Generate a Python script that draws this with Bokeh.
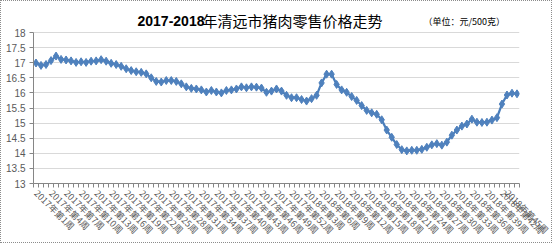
import math
from bokeh.plotting import figure
from bokeh.models import FixedTicker, Label, ColumnDataSource, Range1d
from bokeh.embed import file_html
from bokeh.resources import INLINE

# ---- data ----
weeks_2017 = [f"2017年第{i}周" for i in range(1, 53)]
weeks_2018 = [f"2018年第{i}周" for i in range(1, 46)]
categories = weeks_2017 + weeks_2018

prices = [
    16.99, 16.91, 16.94, 17.07, 17.22, 17.11, 17.09, 17.06, 17.01, 17.03,
    17.01, 17.05, 17.06, 17.10, 17.05, 16.98, 16.94, 16.88, 16.80, 16.74,
    16.70, 16.68, 16.63, 16.50,
    16.38, 16.36, 16.41, 16.41, 16.38, 16.30, 16.20, 16.15, 16.13, 16.10,
    16.03, 16.08, 16.03, 16.00, 16.08, 16.10, 16.13,
    16.20, 16.17, 16.20, 16.19, 16.16, 16.02,
    16.06, 16.13, 16.06, 15.92, 15.84, 15.84, 15.78, 15.73, 15.81, 15.92,
    16.33, 16.62, 16.62, 16.28, 16.10, 16.02, 15.88, 15.75, 15.58, 15.42,
    15.34, 15.29, 15.11,
    14.77, 14.53, 14.29, 14.12, 14.08, 14.10, 14.10, 14.13, 14.20, 14.28,
    14.32, 14.27, 14.37, 14.60, 14.77, 14.90, 14.97, 15.13, 15.03, 15.02,
    15.03, 15.10, 15.18, 15.63, 15.93, 15.99, 15.97,
]

y_ticks = [13, 13.5, 14, 14.5, 15, 15.5, 16, 16.5, 17, 17.5, 18]
title_main = "2017-2018"
title_rest = "年清远市猪肉零售价格走势"
unit_text = "（单位：元/500克）"

# ---- layout constants (pixels, page coordinates) ----
B = 1                   # css border width
W, H = 554 - 2 * B, 245 - 2 * B
LEFT, RIGHT, BOTTOM = 33 - B, 35 - B, 62 - B
PLOT_TOP = 32 - B       # row of the top gridline inside the canvas
FRAME_H = H - BOTTOM
y_lo, y_hi = min(y_ticks), max(y_ticks)
y_top = y_hi + (y_hi - y_lo) * PLOT_TOP / (FRAME_H - PLOT_TOP)

idx = list(range(len(categories)))
src = ColumnDataSource(dict(x=idx, y=prices, cat=categories))

p = figure(width=W, height=H, output_backend="svg", toolbar_location=None,
           title=None,
           x_range=Range1d(-0.5, len(categories) - 0.5),
           y_range=Range1d(y_lo, y_top),
           min_border_left=LEFT, min_border_right=RIGHT, min_border_top=0,
           min_border_bottom=BOTTOM)
p.outline_line_color = None
p.background_fill_color = "white"
p.border_fill_color = "white"
p.styles = {"border": f"{B}px dotted #8c8c8c"}

label_idx = idx[::3]
p.xaxis.ticker = FixedTicker(ticks=label_idx,
                             minor_ticks=[i - 0.5 for i in range(len(categories) + 1)])
p.xaxis.major_label_overrides = {i: categories[i] for i in label_idx}
p.xaxis.major_label_orientation = -math.pi / 4
p.xaxis.major_tick_out = 0
p.xaxis.major_tick_in = 0
p.xaxis.minor_tick_out = 4
p.xaxis.minor_tick_in = 0
p.xaxis.minor_tick_line_color = "#868686"
p.xaxis.axis_line_color = "#868686"
p.xaxis.major_label_text_font = "Noto Sans CJK SC"
p.xaxis.major_label_text_font_size = "9px"
p.xaxis.major_label_text_color = "#595959"
p.xaxis.major_label_standoff = 4

p.yaxis.ticker = FixedTicker(ticks=y_ticks)
p.yaxis.bounds = (y_lo, y_hi)
p.yaxis.major_label_overrides = {t: (str(int(t)) if t == int(t) else str(t)) for t in y_ticks}
p.yaxis.axis_line_color = "#868686"
p.yaxis.major_tick_line_color = "#868686"
p.yaxis.major_tick_out = 4
p.yaxis.major_tick_in = 0
p.yaxis.minor_tick_line_color = None
p.yaxis.major_label_text_font = "Liberation Sans"
p.yaxis.major_label_text_font_size = "10px"
p.yaxis.major_label_text_color = "#595959"
p.yaxis.major_label_standoff = 4

p.xgrid.grid_line_color = None
p.ygrid.ticker = FixedTicker(ticks=y_ticks)
p.ygrid.grid_line_color = "#d9d9d9"
p.ygrid.grid_line_width = 1

p.line("x", "y", source=src, line_color="#4a7ebb", line_width=2.25)
p.scatter("x", "y", source=src, marker="diamond", size=8,
          fill_color="#4f81bd", line_color="#4f81bd")

# titles (screen units: x from frame left, y from frame bottom); args are page px
def sx(px):
    return px - B - LEFT

def sy(py):
    return FRAME_H - (py - B)

p.add_layout(Label(x=sx(137), y=sy(20), x_units="screen", y_units="screen",
                   text=title_main, text_font="Liberation Sans",
                   text_font_style="bold", text_font_size="14px",
                   text_baseline="middle", text_color="#000000"))
p.add_layout(Label(x=sx(202), y=sy(20), x_units="screen", y_units="screen",
                   text=title_rest, text_font="Noto Sans CJK SC",
                   text_font_size="15px", text_baseline="middle",
                   text_color="#000000"))
p.add_layout(Label(x=sx(423), y=sy(21), x_units="screen", y_units="screen",
                   text=unit_text, text_font="Noto Sans CJK SC",
                   text_font_size="9px", text_baseline="middle",
                   text_color="#000000"))

open("out.html", "w").write(file_html(p, INLINE))
